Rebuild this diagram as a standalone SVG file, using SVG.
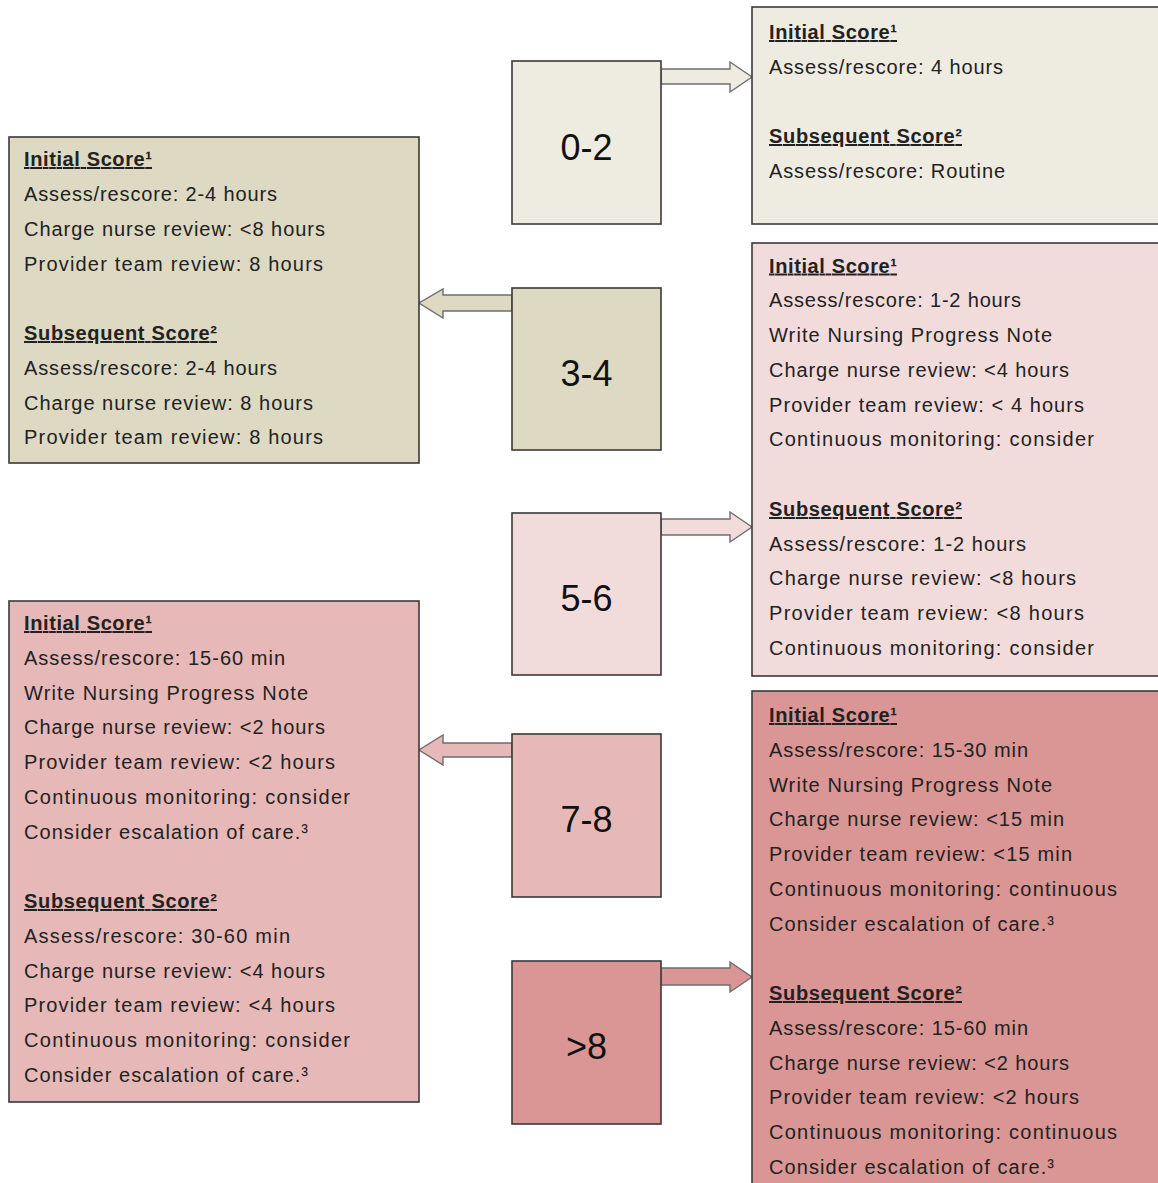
<svg xmlns="http://www.w3.org/2000/svg" width="1158" height="1183" viewBox="0 0 1158 1183">
<style>
.box{stroke:#3a3a3a;stroke-width:1.6}
.c1{fill:#EEECE1}.c2{fill:#DDD9C3}.c3{fill:#F2DCDB}.c4{fill:#E6B9B8}.c5{fill:#D99694}
.arr{stroke:#6e6e6e;stroke-width:1.4;stroke-linejoin:miter}
text{font-family:"Liberation Sans",Arial,sans-serif;fill:#222}
.t{font-size:20px}
.h{font-size:20px;font-weight:bold;text-decoration:underline}
.n{font-size:36px;text-anchor:middle;fill:#111}
</style>
<rect width="1158" height="1183" fill="#ffffff"/>

<g id="connectors">
<polygon class="arr c1" points="661,69 730,69 730,62 752,77 730,92 730,84 661,84"/>
<polygon class="arr c2" points="512,295 443,295 443,289 419,303 443,318 443,311 512,311"/>
<polygon class="arr c3" points="661,519 730,519 730,512 752,527 730,542 730,535 661,535"/>
<polygon class="arr c4" points="512,743 443,743 443,735 419,750 443,765 443,757 512,757"/>
<polygon class="arr c5" points="661,968 730,968 730,962 752,977 730,992 730,985 661,985"/>
</g>

<g id="score-0-2">
<rect class="box c1" x="512" y="61" width="149" height="163"/>
<text class="n" x="586.5" y="160">0-2</text>
</g>
<g id="score-3-4">
<rect class="box c2" x="512" y="288" width="149" height="162"/>
<text class="n" x="586.5" y="386">3-4</text>
</g>
<g id="score-5-6">
<rect class="box c3" x="512" y="513" width="149" height="162"/>
<text class="n" x="586.5" y="611">5-6</text>
</g>
<g id="score-7-8">
<rect class="box c4" x="512" y="734" width="149" height="163"/>
<text class="n" x="586.5" y="832">7-8</text>
</g>
<g id="score-gt8">
<rect class="box c5" x="512" y="961" width="149" height="163"/>
<text class="n" x="586.5" y="1059">&gt;8</text>
</g>

<g id="detail-0-2">
<rect class="box c1" x="752" y="7" width="410" height="217"/>
<text class="h" x="769" y="39" textLength="128" lengthAdjust="spacing">Initial Score¹</text>
<text class="t" x="769" y="73.5" textLength="234" lengthAdjust="spacing">Assess/rescore: 4 hours</text>
<text class="h" x="769" y="143" textLength="193" lengthAdjust="spacing">Subsequent Score²</text>
<text class="t" x="769" y="177.5" textLength="236" lengthAdjust="spacing">Assess/rescore: Routine</text>
</g>

<g id="detail-3-4">
<rect class="box c2" x="9" y="137" width="410" height="326"/>
<text class="h" x="24" y="166" textLength="128" lengthAdjust="spacing">Initial Score¹</text>
<text class="t" x="24" y="201" textLength="253" lengthAdjust="spacing">Assess/rescore: 2-4 hours</text>
<text class="t" x="24" y="236" textLength="301" lengthAdjust="spacing">Charge nurse review: &lt;8 hours</text>
<text class="t" x="24" y="271" textLength="299" lengthAdjust="spacing">Provider team review: 8 hours</text>
<text class="h" x="24" y="340" textLength="193" lengthAdjust="spacing">Subsequent Score²</text>
<text class="t" x="24" y="375" textLength="253" lengthAdjust="spacing">Assess/rescore: 2-4 hours</text>
<text class="t" x="24" y="409.5" textLength="289" lengthAdjust="spacing">Charge nurse review: 8 hours</text>
<text class="t" x="24" y="444" textLength="299" lengthAdjust="spacing">Provider team review: 8 hours</text>
</g>

<g id="detail-5-6">
<rect class="box c3" x="752" y="243" width="410" height="433"/>
<text class="h" x="769" y="272.5" textLength="128" lengthAdjust="spacing">Initial Score¹</text>
<text class="t" x="769" y="307" textLength="252" lengthAdjust="spacing">Assess/rescore: 1-2 hours</text>
<text class="t" x="769" y="342" textLength="283" lengthAdjust="spacing">Write Nursing Progress Note</text>
<text class="t" x="769" y="377" textLength="300" lengthAdjust="spacing">Charge nurse review: &lt;4 hours</text>
<text class="t" x="769" y="411.5" textLength="315" lengthAdjust="spacing">Provider team review: &lt; 4 hours</text>
<text class="t" x="769" y="446" textLength="325" lengthAdjust="spacing">Continuous monitoring: consider</text>
<text class="h" x="769" y="516" textLength="193" lengthAdjust="spacing">Subsequent Score²</text>
<text class="t" x="769" y="550.5" textLength="257" lengthAdjust="spacing">Assess/rescore: 1-2 hours</text>
<text class="t" x="769" y="585" textLength="307" lengthAdjust="spacing">Charge nurse review: &lt;8 hours</text>
<text class="t" x="769" y="620" textLength="315" lengthAdjust="spacing">Provider team review: &lt;8 hours</text>
<text class="t" x="769" y="654.5" textLength="325" lengthAdjust="spacing">Continuous monitoring: consider</text>
</g>

<g id="detail-7-8">
<rect class="box c4" x="9" y="601" width="410" height="501"/>
<text class="h" x="24" y="630" textLength="128" lengthAdjust="spacing">Initial Score¹</text>
<text class="t" x="24" y="664.75" textLength="261" lengthAdjust="spacing">Assess/rescore: 15-60 min</text>
<text class="t" x="24" y="699.5" textLength="284" lengthAdjust="spacing">Write Nursing Progress Note</text>
<text class="t" x="24" y="734.25" textLength="301" lengthAdjust="spacing">Charge nurse review: &lt;2 hours</text>
<text class="t" x="24" y="769" textLength="311" lengthAdjust="spacing">Provider team review: &lt;2 hours</text>
<text class="t" x="24" y="803.75" textLength="326" lengthAdjust="spacing">Continuous monitoring: consider</text>
<text class="t" x="24" y="838.5" textLength="284" lengthAdjust="spacing">Consider escalation of care.³</text>
<text class="h" x="24" y="908" textLength="193" lengthAdjust="spacing">Subsequent Score²</text>
<text class="t" x="24" y="942.75" textLength="266" lengthAdjust="spacing">Assess/rescore: 30-60 min</text>
<text class="t" x="24" y="977.5" textLength="301" lengthAdjust="spacing">Charge nurse review: &lt;4 hours</text>
<text class="t" x="24" y="1012.25" textLength="311" lengthAdjust="spacing">Provider team review: &lt;4 hours</text>
<text class="t" x="24" y="1047" textLength="326" lengthAdjust="spacing">Continuous monitoring: consider</text>
<text class="t" x="24" y="1081.75" textLength="284" lengthAdjust="spacing">Consider escalation of care.³</text>
</g>

<g id="detail-gt8">
<rect class="box c5" x="752" y="691" width="410" height="500"/>
<text class="h" x="769" y="722" textLength="128" lengthAdjust="spacing">Initial Score¹</text>
<text class="t" x="769" y="756.75" textLength="259" lengthAdjust="spacing">Assess/rescore: 15-30 min</text>
<text class="t" x="769" y="791.5" textLength="283" lengthAdjust="spacing">Write Nursing Progress Note</text>
<text class="t" x="769" y="826.25" textLength="295" lengthAdjust="spacing">Charge nurse review: &lt;15 min</text>
<text class="t" x="769" y="861" textLength="303" lengthAdjust="spacing">Provider team review: &lt;15 min</text>
<text class="t" x="769" y="895.75" textLength="348" lengthAdjust="spacing">Continuous monitoring: continuous</text>
<text class="t" x="769" y="930.5" textLength="285" lengthAdjust="spacing">Consider escalation of care.³</text>
<text class="h" x="769" y="1000" textLength="193" lengthAdjust="spacing">Subsequent Score²</text>
<text class="t" x="769" y="1034.75" textLength="259" lengthAdjust="spacing">Assess/rescore: 15-60 min</text>
<text class="t" x="769" y="1069.5" textLength="300" lengthAdjust="spacing">Charge nurse review: &lt;2 hours</text>
<text class="t" x="769" y="1104.25" textLength="310" lengthAdjust="spacing">Provider team review: &lt;2 hours</text>
<text class="t" x="769" y="1139" textLength="348" lengthAdjust="spacing">Continuous monitoring: continuous</text>
<text class="t" x="769" y="1173.75" textLength="285" lengthAdjust="spacing">Consider escalation of care.³</text>
</g>
</svg>
